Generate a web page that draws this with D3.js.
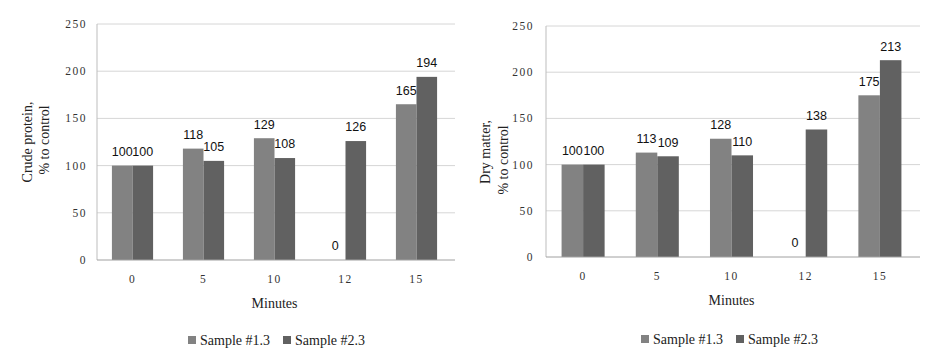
<!DOCTYPE html>
<html>
<head>
    <script src="https://cdnjs.cloudflare.com/ajax/libs/d3/7.8.5/d3.min.js"></script>
    <style>
        body { margin: 0; background: #fff; }
        .tick-y, .tick-x { font-family: "Times New Roman", "Liberation Serif", "DejaVu Serif", serif; font-size: 11.5px; fill: #333; letter-spacing: 1.5px; }
        .title { font-family: "Times New Roman", "Liberation Serif", "DejaVu Serif", serif; font-size: 14px; fill: #222; }
        .legend text { font-family: "Times New Roman", "Liberation Serif", "DejaVu Serif", serif; font-size: 14px; fill: #222; }
        .val { font-family: Arial, "Liberation Sans", sans-serif; font-size: 12.5px; fill: #111; }
    </style>
</head>
<body>
    <div id="chart"></div>
    <script>
        const categories = ["0", "5", "10", "12", "15"];
        const proteinS1 = [100, 118, 129, 0, 165];
        const proteinS2 = [100, 105, 108, 126, 194];
        const dryS1 = [100, 113, 128, 0, 175];
        const dryS2 = [100, 109, 110, 138, 213];
        const yTicks = [0, 50, 100, 150, 200, 250];
        const seriesNames = ["Sample #1.3", "Sample #2.3"];
        const colors = ["#828282", "#616161"];

        const width = 931, height = 357;
        const svg = d3.select("#chart").append("svg").attr("width", width).attr("height", height);

        function drawChart(s1, s2, o) {
            const g = svg.append("g");
            const x = d3.scaleBand().domain(categories).range([o.left, o.right]).paddingInner(0.42).paddingOuter(0.21);
            const sub = d3.scaleBand().domain([0, 1]).range([0, x.bandwidth()]);
            const y = d3.scaleLinear().domain([0, 250]).range([o.bottom, o.top]);

            // gridlines
            g.selectAll(".grid").data(yTicks.filter(t => t > 0)).enter().append("line")
                .attr("x1", o.left).attr("x2", o.right + 3)
                .attr("y1", d => y(d)).attr("y2", d => y(d))
                .attr("stroke", "#d6d6d6").attr("stroke-width", 1);
            g.append("line").attr("x1", o.left).attr("x2", o.left)
                .attr("y1", o.top).attr("y2", o.bottom).attr("stroke", "#bdbdbd");

            // y tick labels
            g.selectAll(".tick-y").data(yTicks).enter().append("text")
                .attr("class", "tick-y")
                .attr("x", o.left - o.tickGap).attr("y", d => y(d))
                .attr("dy", "0.35em").attr("text-anchor", "end")
                .text(d => d);

            const rows = categories.map((c, i) => ({ c, v: [s1[i], s2[i]] }));
            const grp = g.selectAll(".grp").data(rows).enter().append("g")
                .attr("transform", d => `translate(${x(d.c)},0)`);
            grp.selectAll("rect").data(d => d.v).enter().append("rect")
                .attr("x", (d, i) => sub(i)).attr("width", sub.bandwidth())
                .attr("y", d => y(d)).attr("height", d => y(0) - y(d))
                .attr("fill", (d, i) => colors[i]);
            grp.selectAll(".val").data(d => d.v).enter().append("text")
                .attr("class", "val")
                .attr("x", (d, i) => sub(i) + sub.bandwidth() / 2)
                .attr("y", d => y(d) - 14).attr("dy", "0.35em")
                .attr("text-anchor", "middle").text(d => d);

            // baseline
            g.append("line").attr("x1", o.left).attr("x2", o.right + 3)
                .attr("y1", y(0)).attr("y2", y(0)).attr("stroke", "#a0a0a0");

            // x tick labels
            g.selectAll(".tick-x").data(categories).enter().append("text")
                .attr("class", "tick-x")
                .attr("x", d => x(d) + x.bandwidth() / 2).attr("y", o.bottom + 19)
                .attr("dy", "0.35em").attr("text-anchor", "middle").text(d => d);

            g.append("text").attr("class", "title")
                .attr("x", (o.left + o.right) / 2).attr("y", o.bottom + 43)
                .attr("dy", "0.35em").attr("text-anchor", "middle").text("Minutes");

            o.yTitle.forEach((t, i) => {
                g.append("text").attr("class", "title")
                    .attr("transform", `translate(${o.titleX[i]},${o.titleY[i]}) rotate(-90)`)
                    .attr("dy", "0.35em").attr("text-anchor", "middle").text(t);
            });

            const leg = g.append("g").attr("class", "legend");
            seriesNames.forEach((n, i) => {
                leg.append("rect").attr("x", o.legendX[i]).attr("y", o.legendY - 4)
                    .attr("width", 8).attr("height", 8).attr("fill", colors[i]);
                leg.append("text").attr("x", o.legendX[i] + 12).attr("y", o.legendY)
                    .attr("dy", "0.35em").text(n);
            });
        }

        drawChart(proteinS1, proteinS2, {
            left: 97, right: 452, top: 24, bottom: 260, tickGap: 10,
            yTitle: ["Crude protein,", "% to control"], titleX: [27, 44], titleY: [142, 140],
            legendX: [188, 283], legendY: 340
        });
        drawChart(dryS1, dryS2, {
            left: 546, right: 917, top: 26, bottom: 257, tickGap: 12,
            yTitle: ["Dry matter,", "% to control"], titleX: [485, 503], titleY: [152, 160],
            legendX: [641, 736], legendY: 339
        });
    </script>
</body>
</html>
